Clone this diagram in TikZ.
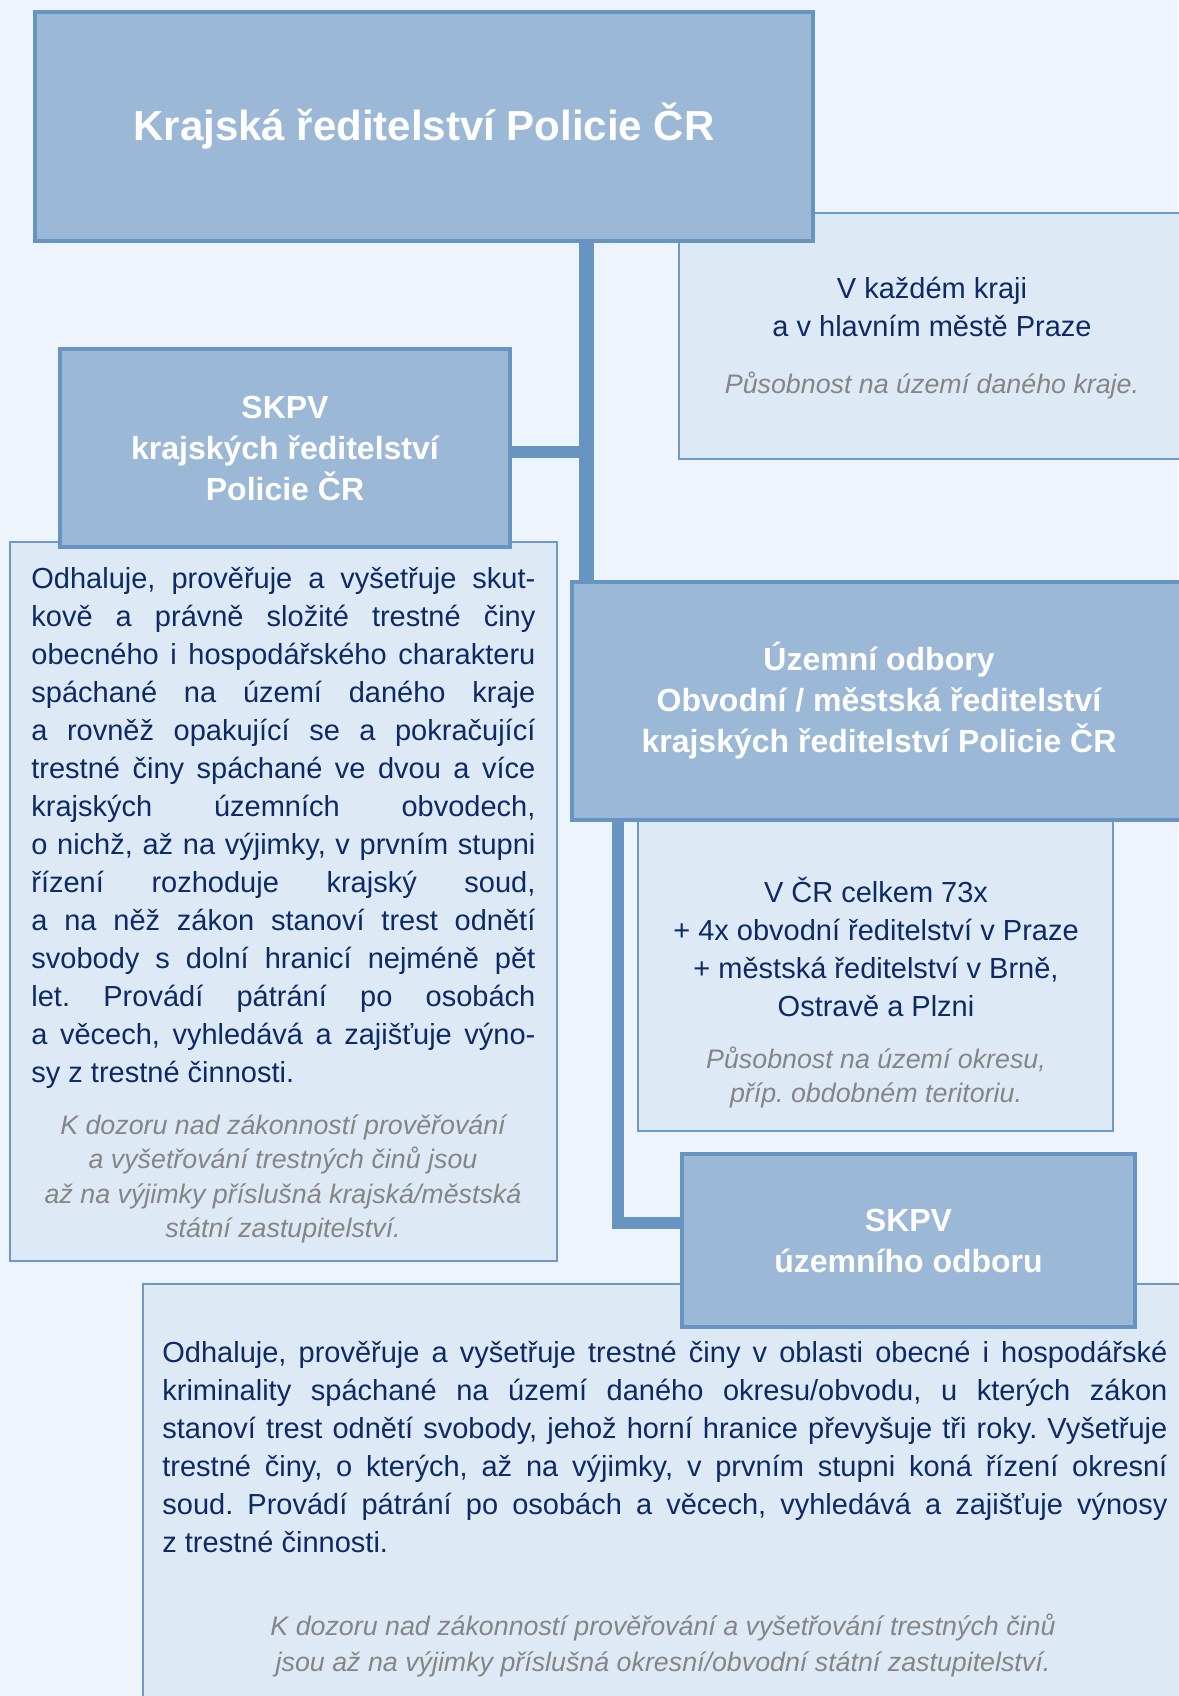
\documentclass[tikz,border=0pt]{standalone}
\usepackage{fontspec}
\setmainfont{Liberation Sans}
\definecolor{pozadi}{HTML}{EEF4FB}
\definecolor{hlavaFill}{HTML}{9BB8D6}
\definecolor{hlavaLine}{HTML}{6894C1}
\definecolor{infoFill}{HTML}{DEE9F6}
\definecolor{infoLine}{HTML}{6E98C6}
\definecolor{textNavy}{HTML}{0C2A66}
\definecolor{textGrey}{HTML}{858585}
\tolerance=10000
\hyphenpenalty=10000
\frenchspacing
\tikzset{
    hlava/.style={rectangle, draw=hlavaLine, fill=hlavaFill, line width=2pt, anchor=north west,
        inner sep=0pt, text=white, align=center, font=\bfseries\fontsize{16}{20.5}\selectfont},
    infobox/.style={rectangle, draw=infoLine, fill=infoFill, line width=1pt, anchor=north west, inner sep=0pt},
}

\begin{document}
\begin{tikzpicture}[x=0.5pt, y=-0.5pt,
popis/.style={text=textNavy, inner sep=0pt, font=\fontsize{14.5}{19}\selectfont},
poznamka/.style={text=textGrey, inner sep=0pt, anchor=north, align=center, font=\itshape\fontsize{13.4}{17.3}\selectfont},
spoj/.style={draw=hlavaLine, line width=6pt},
]
\useasboundingbox[fill=pozadi] (0,0) rectangle (1178,1696);

% info boxes (behind)
\node[infobox, minimum width=254pt, minimum height=123pt] (krajInfo) at (678,212) {};
\node[infobox, minimum width=273.5pt, minimum height=359.5pt] (krajText) at (9,541) {};
\node[infobox, minimum width=237.5pt, minimum height=170pt] (uoInfo) at (637,790) {};
\node[infobox, minimum width=522pt, minimum height=212.5pt] (uoText) at (142,1283) {};

% header boxes
\node[hlava, minimum width=389pt, minimum height=114.5pt, font=\bfseries\fontsize{21}{25}\selectfont] (kraj) at (33,10) {Krajská ředitelství Policie ČR};
\node[hlava, minimum width=225pt, minimum height=99pt] (skpvKraj) at (58,347) {SKPV\\krajských ředitelství\\Policie ČR};
\node[hlava, minimum width=307pt, minimum height=119pt] (uo) at (570,580) {Územní odbory\\Obvodní / městská ředitelství\\krajských ředitelství Policie ČR};
\node[hlava, minimum width=226.5pt, minimum height=86.5pt] (skpvUo) at (680,1152) {SKPV\\územního odboru};

% texts
\node[popis, anchor=north, align=center] (krajInfoText) at (932,277) {V každém kraji\\a v hlavním městě Praze};
\node[poznamka] (krajInfoNote) at (932,371) {Působnost na území daného kraje.};

\node[popis, anchor=north west, text width=252pt, align=justify] (krajBody) at (31,567) {Odhaluje, prověřuje a vyšetřuje skut-\linebreak
kově a právně složité trestné činy\linebreak
obecného i hospodářského charakteru\linebreak
spáchané na území daného kraje\linebreak
a rovněž opakující se a pokračující\linebreak
trestné činy spáchané ve dvou a více\linebreak
krajských územních obvodech,\linebreak
o nichž, až na výjimky, v prvním stupni\linebreak
řízení rozhoduje krajský soud,\linebreak
a na něž zákon stanoví trest odnětí\linebreak
svobody s dolní hranicí nejméně pět\linebreak
let. Provádí pátrání po osobách\linebreak
a věcech, vyhledává a zajišťuje výno-\linebreak
sy z trestné činnosti.};
\node[poznamka] (krajNote) at (283,1114) {K dozoru nad zákonností prověřování\\a vyšetřování trestných činů jsou\\až na výjimky příslušná krajská/městská\\státní zastupitelství.};

\node[popis, anchor=north, align=center] (uoInfoText) at (876,877) {V ČR celkem 73x\\+ 4x obvodní ředitelství v Praze\\+ městská ředitelství v Brně,\\Ostravě a Plzni};
\node[poznamka] (uoInfoNote) at (876,1046) {Působnost na území okresu,\\příp. obdobném teritoriu.};

\node[popis, anchor=north west, text width=502.5pt, align=justify] (uoBody) at (162,1341) {Odhaluje, prověřuje a vyšetřuje trestné činy v oblasti obecné i hospodářské\linebreak
kriminality spáchané na území daného okresu/obvodu, u kterých zákon\linebreak
stanoví trest odnětí svobody, jehož horní hranice převyšuje tři roky. Vyšetřuje\linebreak
trestné činy, o kterých, až na výjimky, v prvním stupni koná řízení okresní\linebreak
soud. Provádí pátrání po osobách a věcech, vyhledává a zajišťuje výnosy\linebreak
z trestné činnosti.};
\node[poznamka, font=\itshape\fontsize{13.4}{18}\selectfont] (uoNote) at (663,1613) {K dozoru nad zákonností prověřování a vyšetřování trestných činů\\jsou až na výjimky příslušná okresní/obvodní státní zastupitelství.};

% connectors
\coordinate (vetev) at (586,452);
\coordinate (ohyb) at (618,1223);
\draw[spoj, line width=7.5pt] (vetev |- kraj.south) -- (vetev |- uo.north);
\draw[spoj] (skpvKraj.east |- vetev) -- (vetev);
\draw[spoj] (ohyb |- uo.south) |- (skpvUo.west |- ohyb);

\end{tikzpicture}
\end{document}
